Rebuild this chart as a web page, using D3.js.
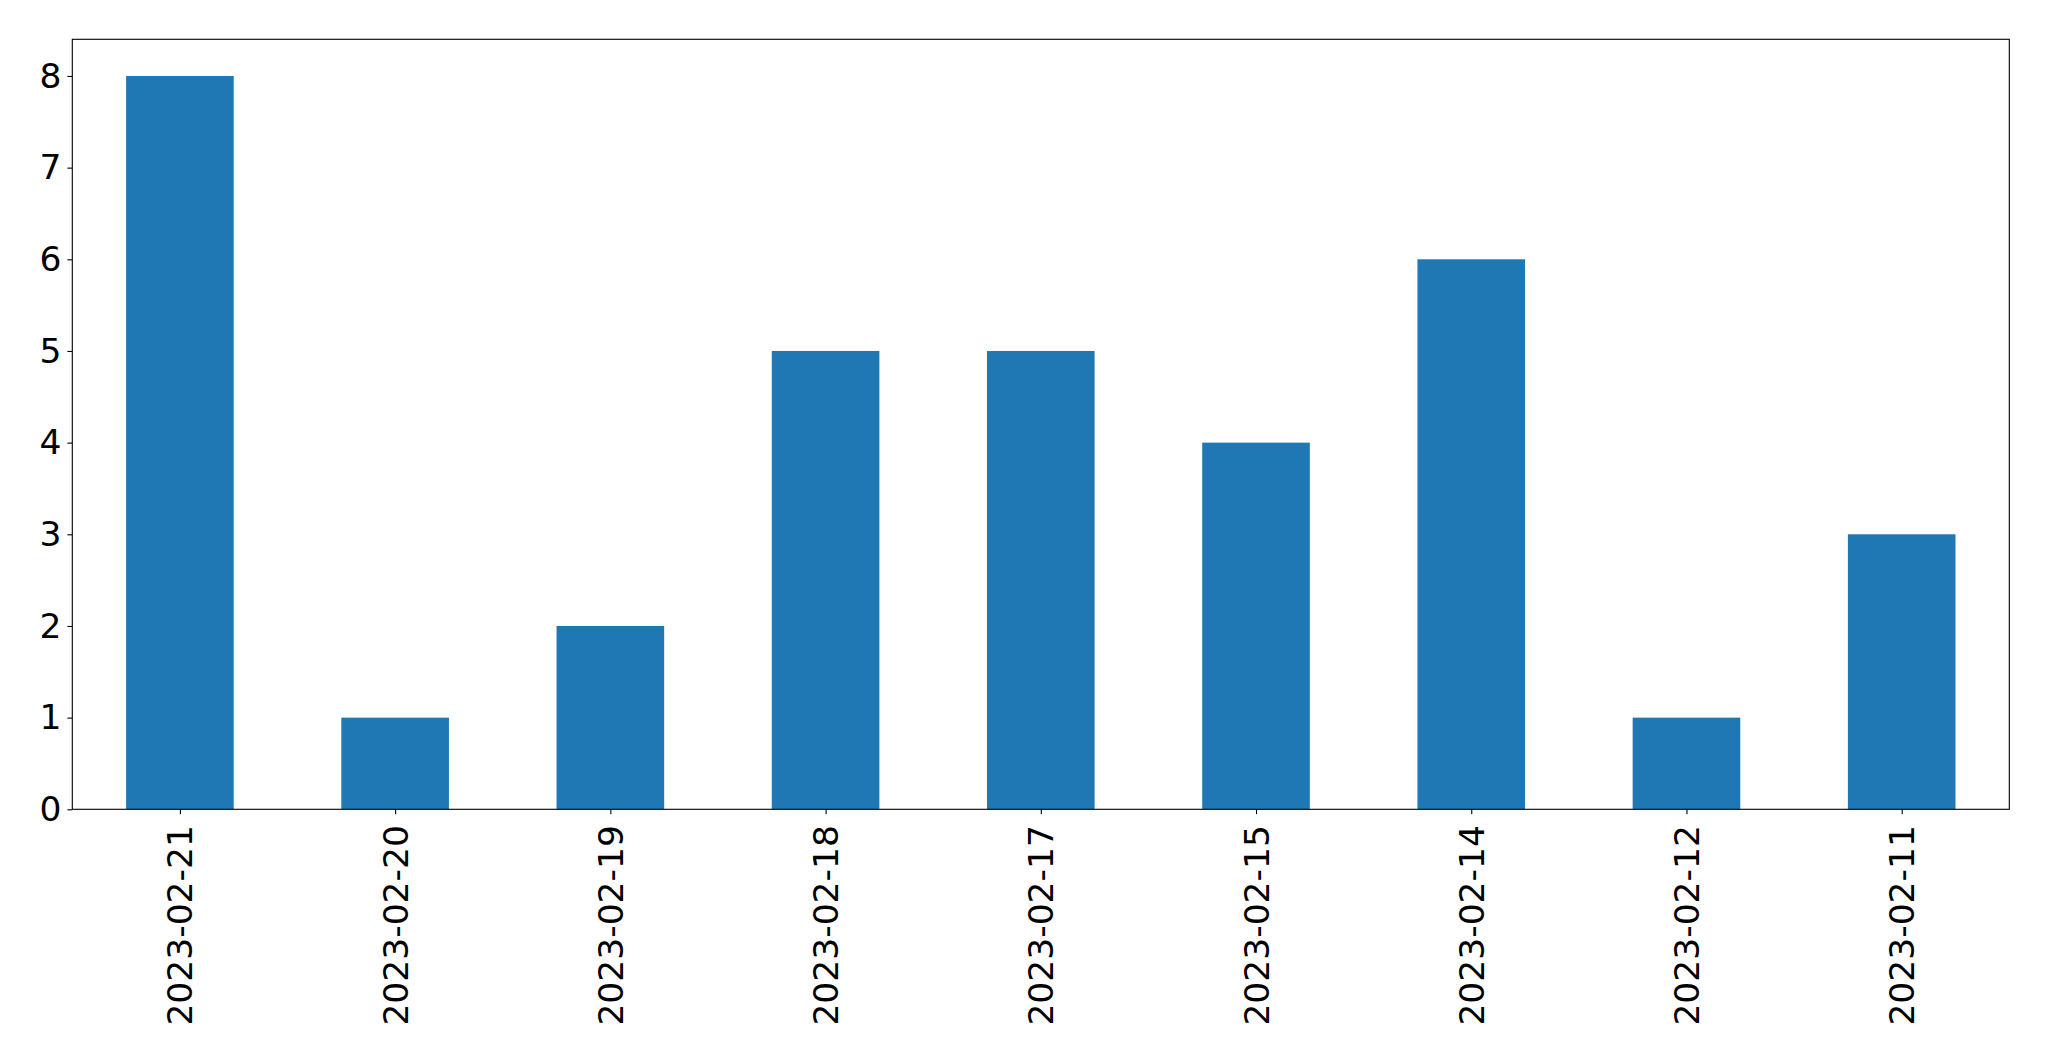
<!DOCTYPE html>
<html lang="en">
<head>
<meta charset="utf-8">
<script src="https://d3js.org/d3.v7.min.js"></script>
<style>
  * { margin: 0; padding: 0; }
  body { width: 2049px; height: 1061px; background: #fff; overflow: hidden; }
  text { font-family: "DejaVu Sans", sans-serif; fill: #000; }
</style>
</head>
<body>
<script>
const dates = ['2023-02-21','2023-02-20','2023-02-19','2023-02-18','2023-02-17','2023-02-15','2023-02-14','2023-02-12','2023-02-11'];
const counts = [8, 1, 2, 5, 5, 4, 6, 1, 3];
const yTicks = [0, 1, 2, 3, 4, 5, 6, 7, 8];

const width = 2049, height = 1061;
const margin = {top: 39.3, right: 2049 - 2009.3, bottom: 1061 - 809.3, left: 72.3};
const fontSize = 34.5;
const tickLen = 4.9, pad = 4.9;

const svg = d3.select('body').append('svg')
  .attr('width', width)
  .attr('height', height);

// categorical position like pandas: index i, range -0.5 .. n-0.5
const xScale = d3.scaleLinear()
  .domain([-0.5, dates.length - 0.5])
  .range([margin.left, width - margin.right]);
const yScale = d3.scaleLinear()
  .domain([0, 8.4])
  .range([height - margin.bottom, margin.top]);

const barW = xScale(0.25) - xScale(-0.25);

svg.append('g')
  .selectAll('rect')
  .data(counts)
  .enter()
  .append('rect')
  .attr('x', (d, i) => xScale(i) - barW / 2)
  .attr('y', d => yScale(d))
  .attr('width', barW)
  .attr('height', d => yScale(0) - yScale(d))
  .attr('fill', '#1f77b4');

// frame
svg.append('rect')
  .attr('x', margin.left)
  .attr('y', margin.top)
  .attr('width', width - margin.right - margin.left)
  .attr('height', height - margin.bottom - margin.top)
  .attr('fill', 'none')
  .attr('stroke', '#000')
  .attr('stroke-width', 1.1);

// y axis
const yAxis = svg.append('g')
  .attr('transform', `translate(${margin.left},0)`)
  .call(d3.axisLeft(yScale).tickValues(yTicks).tickSize(tickLen).tickPadding(pad + 1).tickFormat(d3.format('d')));
yAxis.select('.domain').remove();
yAxis.selectAll('line').attr('stroke', '#000').attr('stroke-width', 1.1);
yAxis.selectAll('text')
  .attr('font-size', fontSize)
  .style('font-family', '"DejaVu Sans", sans-serif');

// x axis
const xAxis = svg.append('g')
  .attr('transform', `translate(0,${height - margin.bottom})`)
  .call(d3.axisBottom(xScale).tickValues(d3.range(dates.length)).tickSize(tickLen).tickFormat(i => dates[i]));
xAxis.select('.domain').remove();
xAxis.selectAll('line').attr('stroke', '#000').attr('stroke-width', 1.1);
xAxis.selectAll('text')
  .attr('font-size', fontSize)
  .style('font-family', '"DejaVu Sans", sans-serif')
  .attr('text-anchor', 'end')
  .attr('dominant-baseline', 'central')
  .attr('x', 0)
  .attr('y', 0)
  .attr('dy', null)
  .attr('transform', `translate(0,${tickLen + pad + 6}) rotate(-90)`);
</script>
</body>
</html>
